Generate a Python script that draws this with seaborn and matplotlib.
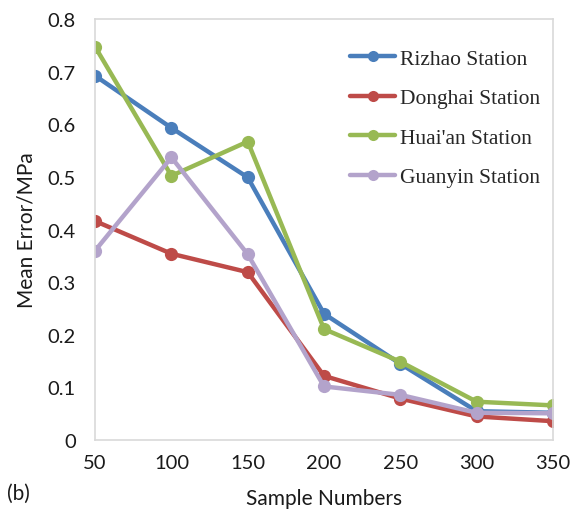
import matplotlib
matplotlib.use("Agg")
import matplotlib.pyplot as plt
import seaborn as sns
import pandas as pd

samples = [50, 100, 150, 200, 250, 300, 350]
rizhao = [0.692, 0.593, 0.499, 0.240, 0.145, 0.055, 0.052]
donghai = [0.416, 0.354, 0.319, 0.122, 0.079, 0.045, 0.036]
huaian = [0.747, 0.502, 0.567, 0.211, 0.149, 0.073, 0.066]
guanyin = [0.360, 0.537, 0.353, 0.102, 0.086, 0.052, 0.051]
station_names = ["Rizhao Station", "Donghai Station", "Huai'an Station", "Guanyin Station"]
colors = ["#4A7EBB", "#BE4B48", "#98B954", "#B3A3CB"]

frames = []
for name, vals in zip(station_names, [rizhao, donghai, huaian, guanyin]):
    frames.append(pd.DataFrame({"samples": samples, "error": vals, "station": name}))
df = pd.concat(frames, ignore_index=True)

sns.set_style("white")
fig = plt.figure(figsize=(5.73, 5.10), dpi=100)
ax = fig.add_axes([0.166, 0.135, 0.799, 0.826])

sns.lineplot(data=df, x="samples", y="error", hue="station", hue_order=station_names,
             palette=colors, marker="o", markersize=9.5, markeredgewidth=0,
             linewidth=3.2, ax=ax, legend=True)

ax.set_xlim(50, 350)
ax.set_ylim(0, 0.8)
ax.set_xticks(samples)
ax.set_yticks([0, 0.1, 0.2, 0.3, 0.4, 0.5, 0.6, 0.7, 0.8])
ax.set_yticklabels(["0", "0.1", "0.2", "0.3", "0.4", "0.5", "0.6", "0.7", "0.8"])
for sp in ax.spines.values():
    sp.set_color("#D9D9D9")
    sp.set_linewidth(1.2)
ax.tick_params(axis="both", length=0, labelsize=14.5, colors="#1a1a1a")
ax.tick_params(axis="x", pad=10)
ax.tick_params(axis="y", pad=14)
for lab in ax.get_xticklabels() + ax.get_yticklabels():
    lab.set_family("Lato")

ax.set_xlabel("Sample Numbers", fontsize=15, family="Lato", color="#1a1a1a", labelpad=12)
ax.set_ylabel("Mean Error/MPa", fontsize=15, family="Lato", color="#1a1a1a", labelpad=8)

leg = ax.legend(loc="upper left", bbox_to_anchor=(0.515, 0.975), frameon=False,
                prop={"family": "Liberation Serif", "size": 15.5},
                handlelength=2.1, labelspacing=0.9, handletextpad=0.2)
for h in leg.get_lines():
    h.set_linewidth(3.2)
    h.set_markersize(8)

fig.text(0.012, 0.02, "(b)", fontsize=15, family="Lato", color="#1a1a1a")

fig.savefig("out.png", dpi=100)
